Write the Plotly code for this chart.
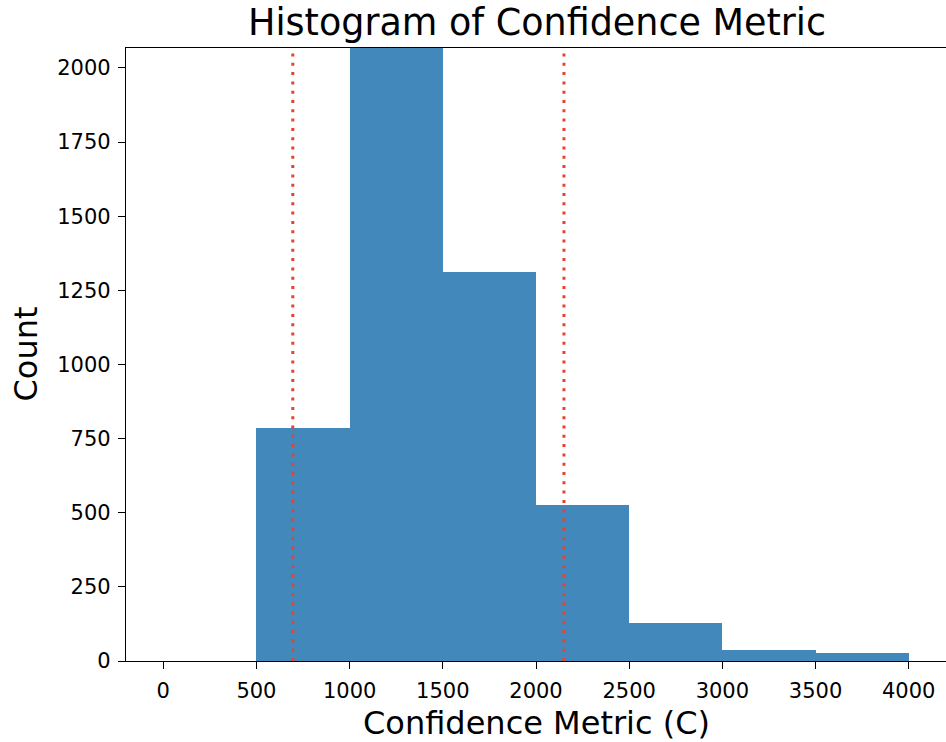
import plotly.graph_objects as go

bin_left = [500, 1000, 1500, 2000, 2500, 3000, 3500]
bin_width = 500
counts = [786, 2600, 1312, 527, 129, 37, 27]
ref_lines = [695, 2150]
x_ticks = [0, 500, 1000, 1500, 2000, 2500, 3000, 3500, 4000]
y_ticks = [0, 250, 500, 750, 1000, 1250, 1500, 1750, 2000]

centers = [b + bin_width / 2 for b in bin_left]

fig = go.Figure()
fig.add_trace(go.Bar(
    x=centers, y=counts, width=[bin_width] * len(centers),
    marker=dict(color="#4288BA", line=dict(width=0)),
    showlegend=False,
))

for xv in ref_lines:
    fig.add_shape(type="line", xref="x", yref="paper", x0=xv, x1=xv, y0=0, y1=1,
                  line=dict(color="#E8432F", width=3, dash="3px,6.3px"))

font = "DejaVu Sans"
fig.update_layout(
    width=946, height=742,
    margin=dict(l=126, r=0, t=48, b=81),
    paper_bgcolor="white", plot_bgcolor="white",
    bargap=0,
    font=dict(family=font, color="black"),
    title=dict(text="Histogram of Confidence Metric", x=537 / 946, xanchor="center",
               y=1 - 22 / 742, yanchor="middle", font=dict(size=36.5, family=font, color="black")),
)
fig.add_annotation(text="Confidence Metric (C)", xref="paper", yref="paper",
                   x=0.5, y=0, xanchor="center", yanchor="middle", yshift=-62,
                   showarrow=False, font=dict(size=32, family=font, color="black"))
fig.add_annotation(text="Count", xref="paper", yref="paper",
                   x=0, y=0.5, xanchor="center", yanchor="middle", xshift=-101,
                   textangle=-90, showarrow=False, font=dict(size=32, family=font, color="black"))
fig.update_xaxes(
    range=[-200, 4200], tickvals=x_ticks, ticktext=[str(v) for v in x_ticks],
    showline=True, linecolor="black", linewidth=1.2, mirror=True,
    ticks="outside", ticklen=7, tickcolor="black", showgrid=False, zeroline=False,
    tickfont=dict(size=21, family=font), ticklabelstandoff=4,
)
fig.update_yaxes(
    range=[0, 2067], tickvals=y_ticks, ticktext=[str(v) for v in y_ticks],
    showline=True, linecolor="black", linewidth=1.2, mirror=True,
    ticks="outside", ticklen=7, tickcolor="black", showgrid=False, zeroline=False,
    tickfont=dict(size=21, family=font), ticklabelstandoff=3,
)

fig.write_html("out.html")
